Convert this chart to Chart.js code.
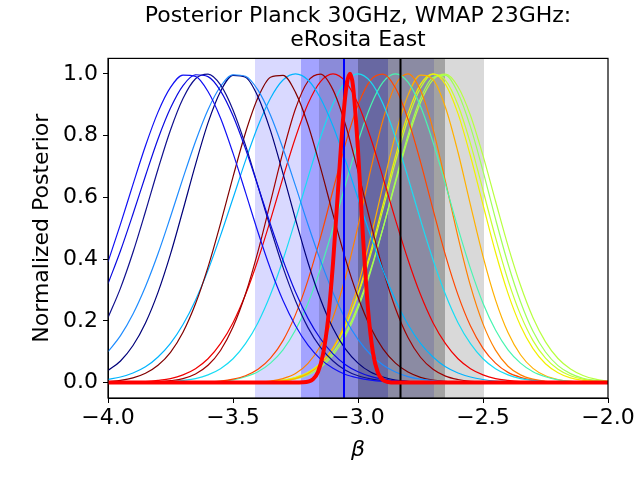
<!DOCTYPE html>
<html>
<head>
<meta charset="utf-8">
<script src="https://cdn.jsdelivr.net/npm/chart.js@4.4.1/dist/chart.umd.min.js"></script>
<style>
  html, body { margin: 0; padding: 0; background: #fff; }
  #wrap { width: 640px; height: 480px; }
</style>
</head>
<body>
<div id="wrap"><canvas id="posteriorChart"></canvas></div>
<script>
// shared beta grid for the thin posterior curves
const betaGrid = [-4.00, -3.95, -3.90, -3.85, -3.80, -3.75, -3.70, -3.65, -3.60, -3.55,
    -3.50, -3.45, -3.40, -3.35, -3.30, -3.25, -3.20, -3.15, -3.10, -3.05,
    -3.00, -2.95, -2.90, -2.85, -2.80, -2.75, -2.70, -2.65, -2.60, -2.55,
    -2.50, -2.45, -2.40, -2.35, -2.30, -2.25, -2.20, -2.15, -2.10, -2.05, -2.00];

// normalized posteriors, one array per region
const postBlue1 = [0.391,0.513,0.642,0.767,0.876,0.956,0.996,0.992,0.943,0.857,0.743,0.616,0.487,0.368,0.266,0.184,0.121,0.076,0.046,0.026,0.015,0.008,0.004,0.002,0.001,0,0,0,0,0,0,0,0,0,0,0,0,0,0,0,0];
const postBlue2 = [0.320,0.427,0.546,0.670,0.789,0.889,0.962,0.997,0.991,0.945,0.864,0.757,0.636,0.512,0.396,0.293,0.208,0.142,0.093,0.058,0.035,0.020,0.011,0.006,0.003,0.001,0.001,0,0,0,0,0,0,0,0,0,0,0,0,0,0];
const postNavy1 = [0.210,0.306,0.422,0.554,0.691,0.818,0.920,0.984,0.999,0.964,0.883,0.769,0.636,0.500,0.373,0.265,0.178,0.114,0.070,0.040,0.022,0.012,0.006,0.003,0.001,0,0,0,0,0,0,0,0,0,0,0,0,0,0,0,0];
const postDodger = [0.100,0.152,0.222,0.311,0.417,0.537,0.662,0.781,0.884,0.959,0.997,0.992,0.947,0.866,0.758,0.637,0.512,0.395,0.292,0.206,0.140,0.091,0.057,0.034,0.019,0.011,0.006,0.003,0.001,0.001,0,0,0,0,0,0,0,0,0,0,0];
const postNavy2 = [0.039,0.070,0.120,0.193,0.292,0.416,0.559,0.706,0.841,0.943,0.995,0.989,0.926,0.816,0.677,0.529,0.389,0.270,0.176,0.108,0.063,0.034,0.018,0.008,0.004,0.002,0.001,0,0,0,0,0,0,0,0,0,0,0,0,0,0];
const postDarkred1 = [0.003,0.007,0.015,0.030,0.056,0.098,0.163,0.255,0.374,0.515,0.666,0.809,0.923,0.989,0.995,0.940,0.835,0.696,0.545,0.400,0.277,0.179,0.109,0.063,0.034,0.017,0.008,0.004,0.002,0.001,0,0,0,0,0,0,0,0,0,0,0];
const postSky = [0.010,0.018,0.031,0.051,0.083,0.127,0.188,0.267,0.364,0.476,0.597,0.719,0.831,0.921,0.980,1.000,0.980,0.921,0.831,0.719,0.597,0.476,0.364,0.267,0.188,0.127,0.083,0.051,0.031,0.018,0.010,0.005,0.003,0.001,0.001,0,0,0,0,0,0];
const postDarkred2 = [0,0,0,0.001,0.002,0.006,0.013,0.028,0.056,0.104,0.180,0.287,0.425,0.585,0.747,0.887,0.976,0.999,0.948,0.835,0.684,0.519,0.366,0.240,0.146,0.082,0.043,0.021,0.010,0.004,0.002,0.001,0,0,0,0,0,0,0,0,0];
const postRed = [0,0.001,0.001,0.003,0.007,0.013,0.025,0.045,0.077,0.126,0.194,0.285,0.398,0.527,0.664,0.794,0.903,0.975,1.000,0.975,0.903,0.794,0.664,0.527,0.398,0.285,0.194,0.126,0.077,0.045,0.025,0.013,0.007,0.003,0.001,0.001,0,0,0,0,0];
const postCyan = [0,0,0,0.001,0.001,0.003,0.007,0.013,0.025,0.045,0.077,0.126,0.194,0.285,0.398,0.527,0.664,0.794,0.903,0.975,1.000,0.975,0.903,0.794,0.664,0.527,0.398,0.285,0.194,0.126,0.077,0.045,0.025,0.013,0.007,0.003,0.001,0.001,0,0,0];
const postOrangered = [0,0,0,0,0,0,0,0.001,0.002,0.005,0.011,0.022,0.043,0.079,0.136,0.220,0.332,0.470,0.623,0.774,0.899,0.979,0.999,0.954,0.853,0.715,0.561,0.412,0.284,0.183,0.111,0.063,0.033,0.017,0.008,0.003,0.001,0.001,0,0,0];
const postAqua = [0,0,0,0,0,0,0,0.001,0.002,0.004,0.009,0.019,0.035,0.063,0.106,0.170,0.257,0.369,0.500,0.642,0.779,0.895,0.973,1.000,0.973,0.895,0.779,0.642,0.500,0.369,0.257,0.170,0.106,0.063,0.035,0.019,0.009,0.004,0.002,0.001,0];
const postDarkorange = [0,0,0,0,0,0,0,0,0,0,0,0.001,0.002,0.005,0.013,0.029,0.062,0.119,0.211,0.342,0.507,0.687,0.851,0.964,1.000,0.947,0.821,0.651,0.472,0.313,0.190,0.105,0.053,0.025,0.011,0.004,0.001,0.001,0,0,0];
const postOrange = [0,0,0,0,0,0,0,0,0,0,0,0,0.001,0.002,0.005,0.013,0.029,0.059,0.112,0.196,0.315,0.467,0.638,0.803,0.931,0.996,0.981,0.891,0.746,0.575,0.409,0.268,0.162,0.090,0.046,0.022,0.010,0.004,0.001,0,0];
const postYellow = [0,0,0,0,0,0,0,0,0,0,0,0,0.001,0.003,0.007,0.015,0.032,0.061,0.110,0.184,0.289,0.422,0.576,0.733,0.871,0.966,1.000,0.966,0.871,0.733,0.576,0.422,0.289,0.184,0.110,0.061,0.032,0.015,0.007,0.003,0.001];
const postLime1 = [0,0,0,0,0,0,0,0,0,0,0,0,0.001,0.003,0.008,0.017,0.033,0.063,0.111,0.183,0.284,0.412,0.561,0.715,0.853,0.954,0.999,0.979,0.899,0.774,0.623,0.470,0.332,0.220,0.136,0.079,0.043,0.022,0.011,0.005,0.002];
const postLime2 = [0,0,0,0,0,0,0,0,0,0,0,0,0.001,0.002,0.006,0.012,0.025,0.049,0.089,0.151,0.240,0.358,0.500,0.654,0.801,0.920,0.988,0.995,0.938,0.828,0.685,0.530,0.385,0.262,0.166,0.099,0.055,0.029,0.014,0.007,0.003];
const postLime3 = [0,0,0,0,0,0,0,0,0,0,0,0,0.001,0.003,0.007,0.015,0.030,0.056,0.097,0.160,0.249,0.364,0.500,0.648,0.790,0.907,0.981,0.999,0.958,0.865,0.735,0.588,0.443,0.315,0.210,0.132,0.078,0.044,0.023,0.011,0.005];

const thinCurves = [postBlue1, postBlue2, postNavy1, postDodger, postNavy2, postDarkred1, postSky,
    postDarkred2, postRed, postCyan, postOrangered, postAqua, postDarkorange, postOrange,
    postYellow, postLime1, postLime2, postLime3];
const thinColors = ['#1010f4', '#0a0ae0', '#10108e', '#1e8cff', '#00007a', '#800000', '#00b4ff',
    '#a00000', '#f00000', '#18dcf4', '#ff4800', '#48f5b0', '#ff8000', '#ffb000',
    '#f2f000', '#c4ff32', '#a0ff58', '#b8ff40'];

// combined posterior (thick red), on its own finer grid
const redBeta = [-4.00, -3.30, -3.22, -3.18, -3.16, -3.14, -3.12, -3.10, -3.08, -3.06, -3.045,
    -3.032, -3.02, -3.00, -2.98, -2.96, -2.94, -2.92, -2.90, -2.88, -2.85, -2.00];
const redPost = [0, 0, 0.001, 0.011, 0.034, 0.091, 0.203, 0.386, 0.622, 0.851, 0.966,
    1.000, 0.961, 0.753, 0.472, 0.238, 0.096, 0.031, 0.008, 0.002, 0, 0];

// best-fit lines and their 1/2 sigma spans
const vLineBeta = [-3.056, -2.83];
const vLineColors = ['#0000ff', '#000000'];
const bandLo = [-3.412, -3.228, -3.156, -3.0];
const bandHi = [-2.696, -2.88, -2.496, -2.652];
const bandColors = ['rgba(0,0,255,0.15)', 'rgba(0,0,255,0.25)', 'rgba(0,0,0,0.15)', 'rgba(0,0,0,0.25)'];

const xTicks = [-4.0, -3.5, -3.0, -2.5, -2.0];
const xTickLabels = ['\u22124.0', '\u22123.5', '\u22123.0', '\u22122.5', '\u22122.0'];
const yTicks = [0, 0.2, 0.4, 0.6, 0.8, 1.0];
const yTickLabels = ['0.0', '0.2', '0.4', '0.6', '0.8', '1.0'];

Chart.defaults.font.family = "'DejaVu Sans', sans-serif";
Chart.defaults.color = '#000';

const datasets = [];
datasets.push({
    data: redBeta.map((b, i) => ({ x: b, y: redPost[i] })),
    borderColor: '#ff0000',
    borderWidth: 4,
    order: 0,
});
vLineBeta.forEach((b, i) => {
    datasets.push({
        data: [{ x: b, y: -0.05 }, { x: b, y: 1.05 }],
        borderColor: vLineColors[i],
        borderWidth: 2,
        cubicInterpolationMode: 'default',
        tension: 0,
        order: 1,
    });
});
thinCurves.forEach((ys, i) => {
    datasets.push({
        data: betaGrid.map((b, j) => ({ x: b, y: ys[j] })),
        borderColor: thinColors[i],
        borderWidth: 1.2,
        order: 2,
    });
});

// shaded spans behind the curves, full box frame on top
const spansAndFrame = {
    id: 'spansAndFrame',
    beforeDatasetsDraw(chart) {
        const { ctx, chartArea, scales } = chart;
        ctx.save();
        bandLo.forEach((lo, i) => {
            const x0 = scales.x.getPixelForValue(lo);
            const x1 = scales.x.getPixelForValue(bandHi[i]);
            ctx.fillStyle = bandColors[i];
            ctx.fillRect(x0, chartArea.top, x1 - x0, chartArea.bottom - chartArea.top);
        });
        ctx.restore();
    },
    afterDraw(chart) {
        const { ctx, chartArea } = chart;
        ctx.save();
        ctx.strokeStyle = '#000';
        ctx.lineWidth = 1.2;
        ctx.strokeRect(chartArea.left, chartArea.top,
            chartArea.right - chartArea.left, chartArea.bottom - chartArea.top);
        ctx.restore();
    },
};

const pc = document.getElementById('posteriorChart');

if (pc) {
    new Chart(pc, {
        type: 'line',
        data: { datasets },
        plugins: [spansAndFrame],
        options: {
            responsive: true,
            maintainAspectRatio: false,
            animation: false,
            layout: { padding: { left: 0, right: 32, top: 0, bottom: 0 } },
            elements: {
                point: { radius: 0 },
                line: { cubicInterpolationMode: 'monotone', tension: 0.4, fill: false },
            },
            plugins: {
                legend: { display: false },
                tooltip: { enabled: false },
                title: {
                    display: true,
                    text: ['Posterior Planck 30GHz, WMAP 23GHz:', 'eRosita East'],
                    color: '#000',
                    font: { size: 22, weight: 'normal', lineHeight: 1.1 },
                    padding: { top: 4, bottom: 6 },
                    fullSize: false,
                },
            },
            scales: {
                x: {
                    type: 'linear',
                    min: -4,
                    max: -2,
                    afterBuildTicks: (s) => { s.ticks = xTicks.map((v) => ({ value: v })); },
                    afterFit: (s) => { s.height = 82; },
                    ticks: {
                        callback: (v, i) => xTickLabels[i],
                        font: { size: 22 },
                        padding: 2,
                        maxRotation: 0,
                        autoSkip: false,
                    },
                    grid: { display: true, drawOnChartArea: false, drawTicks: true, tickLength: 5, color: '#000' },
                    border: { display: true, color: '#000', width: 1 },
                    title: {
                        display: true,
                        text: '\u03b2',
                        font: { size: 22, style: 'italic' },
                        padding: { top: 0, bottom: 17 },
                    },
                },
                y: {
                    type: 'linear',
                    min: -0.05,
                    max: 1.05,
                    afterBuildTicks: (s) => { s.ticks = yTicks.map((v) => ({ value: v })); },
                    afterFit: (s) => { s.width = 108; },
                    ticks: {
                        callback: (v, i) => yTickLabels[i],
                        font: { size: 22 },
                        padding: 5,
                        autoSkip: false,
                    },
                    grid: { display: true, drawOnChartArea: false, drawTicks: true, tickLength: 5, color: '#000' },
                    border: { display: true, color: '#000', width: 1 },
                    title: {
                        display: true,
                        text: 'Normalized Posterior',
                        font: { size: 22 },
                        padding: { top: 29, bottom: 0 },
                    },
                },
            },
        },
    });
}
</script>
</body>
</html>
